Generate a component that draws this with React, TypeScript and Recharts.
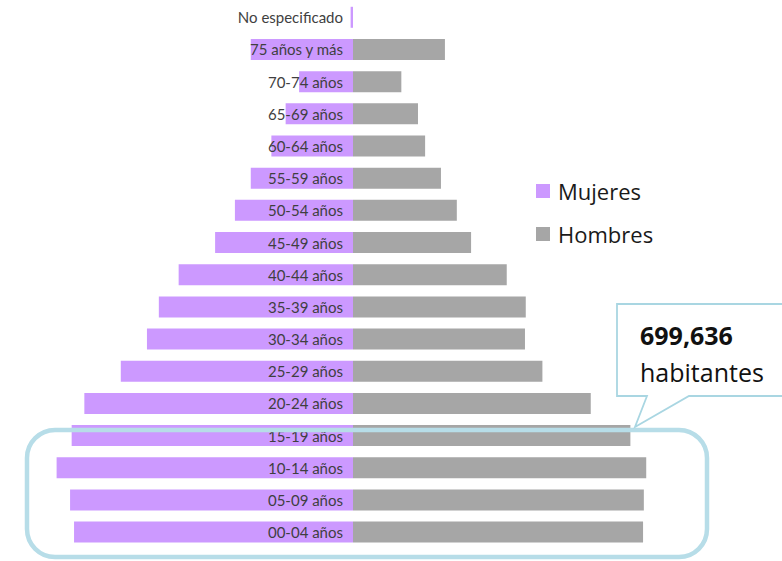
import React from "react";
import { BarChart, Bar, XAxis, YAxis, LabelList } from "recharts";

// Grupos de edad, de arriba hacia abajo
const ageGroups = [
  "No especificado",
  "75 años y más",
  "70-74 años",
  "65-69 años",
  "60-64 años",
  "55-59 años",
  "50-54 años",
  "45-49 años",
  "40-44 años",
  "35-39 años",
  "30-34 años",
  "25-29 años",
  "20-24 años",
  "15-19 años",
  "10-14 años",
  "05-09 años",
  "00-04 años",
];

const mujeres = [
  300, 12900, 6800, 8500, 10300, 12900, 14900, 17400, 22000, 24500, 26000, 29300, 33900, 35500, 37400, 35700, 35200,
];

const hombres = [
  0, 11600, 6100, 8200, 9100, 11100, 13100, 14900, 19400, 21800, 21700, 23900, 30000, 35000, 37000, 36700, 36600,
];

const totalLabel = "699,636";
const totalUnit = "habitantes";

const PURPLE = "#CC99FF";
const GRAY = "#A6A6A6";

const series = [
  { key: "Mujeres", color: PURPLE },
  { key: "Hombres", color: GRAY },
];

const data = ageGroups.map((age, i) => ({
  age,
  Mujeres: -mujeres[i],
  Hombres: hombres[i],
}));

// etiqueta de edad pegada al eje central, sobre la barra de mujeres
function AgeLabel(props: any) {
  const { x, y, width, height, value } = props;
  const right = Math.max(x, x + width);
  return (
    <text
      x={right - 10}
      y={y + height / 2}
      textAnchor="end"
      dominantBaseline="central"
      fill="#3f3f3f"
      fontSize={15}
      fontFamily="Lato, sans-serif"
    >
      {value}
    </text>
  );
}

export default function App() {
  return (
    <div style={{ position: "absolute", left: 0, top: 0, width: 782, height: 561, background: "#fff" }}>
      <BarChart
        width={782}
        height={561}
        data={data}
        layout="vertical"
        stackOffset="sign"
        barCategoryGap="18%"
        margin={{ top: 1, right: 112, bottom: 13, left: 36 }}
      >
        <XAxis type="number" domain={[-40000, 40000]} hide />
        <YAxis type="category" dataKey="age" hide />
        <Bar dataKey="Mujeres" stackId="p" fill={PURPLE} isAnimationActive={false}>
          <LabelList dataKey="age" content={<AgeLabel />} />
        </Bar>
        <Bar dataKey="Hombres" stackId="p" fill={GRAY} isAnimationActive={false} />
      </BarChart>
      <div
        style={{
          position: "absolute",
          left: 536,
          top: 169,
          fontFamily: "'Open Sans', sans-serif",
          fontSize: 22,
          color: "#1a1a1a",
        }}
      >
        {series.map((s) => (
          <div key={s.key} style={{ display: "flex", alignItems: "center", height: 43 }}>
            <span style={{ width: 14, height: 14, background: s.color, display: "inline-block", marginRight: 8 }} />
            <span>{s.key}</span>
          </div>
        ))}
      </div>
      <svg
        width={782}
        height={561}
        style={{ position: "absolute", left: 0, top: 0, pointerEvents: "none" }}
      >
        <rect x={27} y={430} width={680} height={127} rx={28} fill="none" stroke="#B7DDE8" strokeWidth={4.5} />
        <path
          d="M 647 396 L 617 396 L 617 304 L 790 304 L 790 396 L 689 396 L 635 427 Z"
          fill="#fff"
          stroke="#A9D6E2"
          strokeWidth={1.8}
        />
        <text x={640} y={345} fontFamily="'Open Sans', sans-serif" fontSize={25} fontWeight="bold" fill="#111">
          {totalLabel}
        </text>
        <text x={640} y={382} fontFamily="'Open Sans', sans-serif" fontSize={25} fill="#111">
          {totalUnit}
        </text>
      </svg>
    </div>
  );
}
